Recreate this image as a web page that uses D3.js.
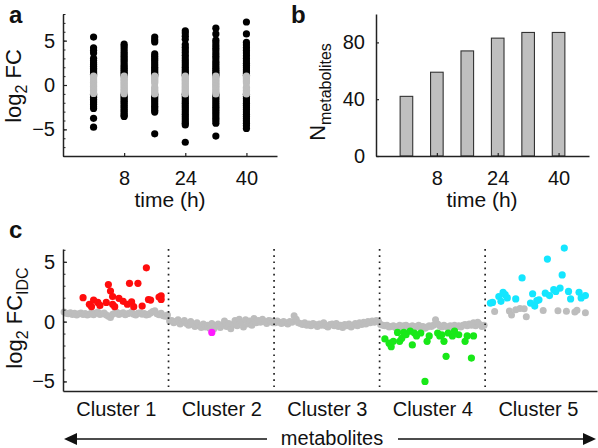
<!DOCTYPE html>
<html><head><meta charset="utf-8">
<script src="https://cdn.jsdelivr.net/npm/d3@7"></script>
<style>
body{margin:0;background:#fff;}
svg{display:block;font-family:Arial,"Liberation Sans",sans-serif;}
</style></head><body>
<svg id="chart" width="598" height="448"></svg>
<script>
// ---------- data ----------
const timePoints = [0, 8, 16, 24, 32, 40];
const timeTicks = [8, 24, 40];
const fcTicks = [-5, 0, 5];
// significant metabolites (|log2 FC| > 1), one list per time point
const fcSig0  = [5.4, 4.2, 3.9, 3.6, 3.0, 2.75, 2.5, 2.3, 2.1, 1.9, 1.7, 1.5, 1.35, 1.2, 1.05, -1.05, -1.2, -1.4, -1.6, -1.8, -2.0, -2.2, -2.45, -2.65, -3.75, -4.75];
const fcSig8  = [4.6, 4.35, 4.05, 3.75, 3.5, 3.25, 3.0, 2.75, 2.5, 2.25, 2.05, 1.85, 1.65, 1.45, 1.25, 1.05, -1.05, -1.25, -1.45, -1.65, -1.85, -2.05, -2.3, -2.5, -2.75, -2.95, -3.2, -3.4, -3.55];
const fcSig16 = [5.4, 5.1, 4.85, 3.5, 3.25, 3.0, 2.75, 2.5, 2.25, 2.0, 1.8, 1.6, 1.4, 1.2, 1.05, -1.05, -1.25, -1.45, -1.65, -1.9, -2.15, -2.4, -2.6, -2.85, -3.05, -5.5];
const fcSig24 = [6.1, 5.85, 5.5, 5.15, 4.55, 4.25, 3.95, 3.65, 3.35, 3.05, 2.75, 2.5, 2.25, 2.0, 1.75, 1.5, 1.3, 1.1, -1.05, -1.3, -1.55, -1.8, -2.05, -2.3, -2.55, -2.8, -3.05, -3.3, -3.55, -3.8, -4.05, -4.3, -4.5, -6.45];
const fcSig32 = [6.4, 5.75, 5.05, 4.75, 4.45, 4.15, 3.85, 3.55, 3.25, 2.95, 2.65, 2.4, 2.15, 1.9, 1.65, 1.45, 1.25, 1.05, -1.05, -1.25, -1.5, -1.75, -2.0, -2.25, -2.5, -2.75, -3.0, -3.25, -3.5, -3.75, -4.0, -4.3, -5.75];
const fcSig40 = [7.1, 5.75, 4.8, 4.5, 4.2, 3.9, 3.6, 3.3, 3.0, 2.7, 2.45, 2.2, 1.95, 1.7, 1.5, 1.3, 1.1, -1.05, -1.3, -1.55, -1.8, -2.05, -2.3, -2.55, -2.8, -3.05, -3.3, -3.55, -3.8, -4.05, -4.3, -4.6, -4.9];
// non-significant metabolites, one list per time point
const fcNs0  = [1.0, 0.8, 0.6, 0.45, 0.3, 0.15, 0.0, -0.15, -0.3, -0.45, -0.6, -0.8, -0.95];
const fcNs8  = [1.0, 0.82, 0.64, 0.5, 0.32, 0.15, 0.0, -0.18, -0.34, -0.5, -0.66, -0.82, -0.98];
const fcNs16 = [1.0, 0.85, 0.7, 0.55, 0.4, 0.22, -0.25, -0.42, -0.6, -0.75, -0.9, -1.0];
const fcNs24 = [1.0, 0.83, 0.66, 0.5, 0.33, 0.16, 0.0, -0.17, -0.34, -0.5, -0.67, -0.84, -1.0];
const fcNs32 = [1.0, 0.84, 0.68, 0.52, 0.35, 0.18, 0.02, -0.15, -0.32, -0.5, -0.68, -0.85, -1.0];
const fcNs40 = [1.0, 0.85, 0.7, 0.55, 0.4, 0.22, -0.25, -0.42, -0.6, -0.75, -0.9, -1.0];

const nMetabolites = [42, 59, 74, 83, 87, 87];
const nTicks = [0, 40, 80];

const clusterNames = ["Cluster 1", "Cluster 2", "Cluster 3", "Cluster 4", "Cluster 5"];
const clusterSize = 50;
const idcTicks = [-5, 0, 5];
// background (grey) metabolites: value per metabolite index
const bgC1 = [0.8,0.7,0.65,0.75,0.6,0.7,0.55,0.65,0.72,0.6,0.68,0.55,0.62,0.75,0.58,0.7,0.8,0.6,0.66,0.72,0.55,0.45,0.35,0.62,0.7,0.78,0.6,0.68,0.74,0.58,0.66,0.7,0.8,0.62,0.55,0.7,0.75,0.62,0.68,0.55,0.6,0.72,0.85,0.9,0.65,0.58,0.7,0.5,0.45,0.55];
const bgC2 = [0.05,0.1,-0.1,0.0,0.15,-0.2,-0.05,0.1,-0.15,-0.3,0.0,-0.25,-0.4,-0.1,-0.35,-0.5,-0.2,-0.45,-0.3,-0.55,-0.15,-0.6,-0.35,-0.2,-0.5,-0.3,0.05,-0.4,-0.15,-0.6,-0.25,0.1,-0.35,0.2,-0.1,-0.45,0.15,-0.2,0.05,-0.3,0.25,-0.1,0.1,-0.05,0.2,0.0,-0.15,0.1,0.05,-0.1];
const bgC3 = [-0.1,0.05,-0.05,-0.15,0.0,-0.1,-0.2,0.0,-0.05,0.5,0.2,-0.1,-0.15,-0.25,-0.1,-0.3,-0.2,-0.35,-0.15,-0.25,-0.4,-0.2,-0.3,-0.1,-0.35,-0.45,-0.25,-0.2,-0.35,-0.15,-0.4,-0.3,-0.5,-0.25,-0.35,-0.2,-0.45,-0.3,-0.15,-0.35,-0.1,-0.25,-0.05,-0.2,0.0,-0.1,0.05,-0.05,0.1,0.0];
const bgC4 = [-0.25,-0.3,-0.35,-0.3,-0.45,-0.4,-0.35,-0.5,-0.4,-0.3,-0.45,-0.35,-0.3,-0.4,-0.5,-0.35,-0.45,-0.4,-0.3,-0.5,-0.4,-0.55,-0.45,-0.35,-0.4,-0.3,0.15,-0.2,-0.35,-0.45,-0.3,-0.4,-0.5,-0.35,-0.45,-0.3,-0.4,-0.35,-0.45,-0.3,-0.25,-0.35,-0.2,-0.3,-0.1,-0.35,-0.05,-0.25,-0.4,-0.3];
// cluster 5 background: [metabolite index, value]
const bgC5 = [[4,0.85],[11,0.88],[12,0.55],[14,1.0],[16,1.1],[18,1.08],[19,0.4],[27,0.92],[34,0.9],[38,0.86],[42,0.8],[43,0.95],[47,0.75]];
// significant (coloured) metabolites: [metabolite index, value]
const sigC1 = [[9,2.0],[12,1.45],[13,1.25],[14,1.8],[16,1.6],[17,1.35],[20,1.6],[21,3.1],[22,2.55],[23,2.1],[23,1.45],[24,1.25],[26,1.95],[28,1.7],[30,1.45],[31,3.2],[32,1.65],[33,1.25],[35,3.2],[37,1.3],[39,4.5],[40,1.85],[41,1.8],[45,2.05],[46,2.15],[46,1.85]];
const sigC2 = [[20,-0.9]];
const sigC3 = [];
const sigC4 = [[2,-1.45],[4,-1.8],[5,-2.1],[6,-1.65],[8,-0.9],[9,-1.65],[10,-1.4],[11,-0.9],[12,-1.1],[14,-0.8],[15,-1.95],[16,-0.95],[17,-1.2],[19,-0.95],[21,-5.0],[22,-1.65],[23,-1.2],[27,-0.95],[28,-1.2],[29,-1.1],[30,-1.65],[31,-2.9],[32,-0.95],[34,-1.2],[35,-0.8],[37,-1.1],[40,-1.65],[41,-1.2],[43,-3.05],[44,-1.2]];
const sigC5 = [[2,1.55],[3,1.6],[6,2.1],[7,1.7],[8,2.45],[9,2.25],[10,1.98],[14,1.9],[17,3.65],[21,1.55],[22,2.33],[23,1.3],[24,1.76],[25,1.82],[28,2.38],[29,5.23],[30,2.18],[32,2.67],[33,2.52],[35,2.8],[36,3.9],[37,6.15],[39,2.52],[40,1.9],[44,2.45],[45,1.98],[47,2.18]];

// ---------- drawing ----------
const svg = d3.select("#chart");
const FONT = 20;
const AX = "#222";
const GREY = "#bdbdbd";
const sigColours = ["#ff0d0d", "#ff1aff", "#ff0d0d", "#18e818", "#14e6ff"];

function styleAxis(g) {
  g.select(".domain").attr("stroke", AX).attr("stroke-width", 1.5);
  g.selectAll(".tick line").attr("stroke", AX).attr("stroke-width", 1.2);
  g.selectAll(".tick text").attr("font-size", FONT).attr("fill", "#111").attr("font-family", "Arial, 'Liberation Sans', sans-serif");
}

// panel a
const xA = d3.scaleLinear().domain([-8, 48]).range([63, 277]);
const yA = d3.scaleLinear().domain([-8, 8]).range([156, 14]);
const sigAll = [fcSig0, fcSig8, fcSig16, fcSig24, fcSig32, fcSig40];
const nsAll = [fcNs0, fcNs8, fcNs16, fcNs24, fcNs32, fcNs40];
const gA = svg.append("g");
timePoints.forEach((t, i) => {
  gA.selectAll(null).data(sigAll[i]).enter().append("circle")
    .attr("cx", xA(t)).attr("cy", d => yA(d)).attr("r", 3.6).attr("fill", "#000");
  gA.selectAll(null).data(nsAll[i]).enter().append("circle")
    .attr("cx", xA(t)).attr("cy", d => yA(d)).attr("r", 3.6).attr("fill", GREY);
});
svg.append("g").attr("transform", "translate(63,0)")
  .call(d3.axisLeft(yA).tickValues(d3.range(-8, 9)).tickSize(-2.5).tickFormat(""))
  .call(g => { g.select(".domain").remove(); g.selectAll("line").attr("stroke", AX); });
svg.append("g").attr("transform", "translate(63,0)")
  .call(d3.axisLeft(yA).tickValues(fcTicks).tickSize(-4).tickSizeOuter(0).tickPadding(8).tickFormat(d3.format("d")))
  .call(styleAxis);
svg.append("g").attr("transform", "translate(0,156)")
  .call(d3.axisBottom(xA).tickValues(timeTicks).tickSize(-3).tickSizeOuter(0).tickPadding(15))
  .call(styleAxis);

// panel b
const xB = d3.scaleLinear().domain([-8, 48]).range([376, 589]);
const yB = d3.scaleLinear().domain([0, 100]).range([156, 14]);
svg.append("g").selectAll("rect").data(nMetabolites).enter().append("rect")
  .attr("x", (d, i) => xB(timePoints[i]) - 6.3).attr("width", 12.6)
  .attr("y", d => yB(d)).attr("height", d => yB(0) - yB(d))
  .attr("fill", "#bfbfbf").attr("stroke", "#333").attr("stroke-width", 1.1);
svg.append("g").attr("transform", "translate(376,0)")
  .call(d3.axisLeft(yB).tickValues(nTicks).tickSize(-3).tickSizeOuter(0).tickPadding(11))
  .call(styleAxis);
svg.append("g").attr("transform", "translate(0,156)")
  .call(d3.axisBottom(xB).tickValues(timeTicks).tickSize(-3).tickSizeOuter(0).tickPadding(15))
  .call(styleAxis);

// panel c
const xC = d3.scaleLinear().domain([0, 5.06]).range([63, 597]);
const yC = d3.scaleLinear().domain([-5.8, 6.07]).range([391, 249]);
const posC = (k, idx) => xC(k + (idx + 0.5) / clusterSize);
const bgAll = [bgC1, bgC2, bgC3, bgC4].map(arr => arr.map((v, i) => [i, v]));
bgAll.push(bgC5);
const sigAllC = [sigC1, sigC2, sigC3, sigC4, sigC5];
const gC = svg.append("g");
bgAll.forEach((arr, k) => {
  gC.selectAll(null).data(arr).enter().append("circle")
    .attr("cx", d => posC(k, d[0])).attr("cy", d => yC(d[1])).attr("r", 3.5).attr("fill", GREY);
});
sigAllC.forEach((arr, k) => {
  gC.selectAll(null).data(arr).enter().append("circle")
    .attr("cx", d => posC(k, d[0])).attr("cy", d => yC(d[1])).attr("r", 3.6).attr("fill", sigColours[k]);
});
svg.append("g").selectAll("line").data([1, 2, 3, 4]).enter().append("line")
  .attr("x1", d => xC(d)).attr("x2", d => xC(d)).attr("y1", 249).attr("y2", 391)
  .attr("stroke", "#222").attr("stroke-width", 1.7).attr("stroke-dasharray", "1.7,4.5");
svg.append("g").attr("transform", "translate(63,0)")
  .call(d3.axisLeft(yC).tickValues(d3.range(-5, 7)).tickSize(-2.5).tickFormat(""))
  .call(g => { g.select(".domain").remove(); g.selectAll("line").attr("stroke", AX); });
svg.append("g").attr("transform", "translate(63,0)")
  .call(d3.axisLeft(yC).tickValues(idcTicks).tickSize(-4).tickSizeOuter(0).tickPadding(8))
  .call(styleAxis);
svg.append("g").attr("transform", "translate(0,391)")
  .call(d3.axisBottom(xC).tickValues([0.5, 1.5, 2.5, 3.5, 4.5]).tickSize(0).tickSizeOuter(0).tickPadding(11)
    .tickFormat((d, i) => clusterNames[i]))
  .call(styleAxis);

// axis titles
function addText(x, y, txt, opts = {}) {
  return svg.append("text").attr("x", x).attr("y", y).text(txt)
    .attr("font-size", opts.size || FONT).attr("text-anchor", opts.anchor || "middle")
    .attr("font-weight", opts.weight || "normal").attr("fill", "#111");
}
addText(170, 207, "time (h)", {size: 21});
addText(482, 207, "time (h)", {size: 21});
addText(9, 23, "a", {size: 24, weight: "bold", anchor: "start"});
addText(291, 23, "b", {size: 24, weight: "bold", anchor: "start"});
addText(9, 238, "c", {size: 24, weight: "bold", anchor: "start"});

function rotLabel(x, y, parts) {
  const t = svg.append("text").attr("transform", `translate(${x},${y}) rotate(-90)`)
    .attr("text-anchor", "middle").attr("font-size", 22).attr("fill", "#111");
  parts.forEach(p => {
    t.append("tspan").text(p[0]).attr("font-size", p[1] ? 16 : 22).attr("dy", p[2] || 0);
  });
}
rotLabel(21, 86, [["log", false], ["2", true, 6], [" FC", false, -6]]);
rotLabel(325, 92, [["N", false], ["metabolites", true, 6]]);
rotLabel(22, 318, [["log", false], ["2", true, 6], [" FC", false, -6], ["IDC", true, 6]]);

// metabolites arrow
addText(332, 445, "metabolites", {size: 20});
const arrowY = 439;
svg.append("line").attr("x1", 74).attr("x2", 267).attr("y1", arrowY).attr("y2", arrowY).attr("stroke", "#111").attr("stroke-width", 1.5);
svg.append("line").attr("x1", 398).attr("x2", 586).attr("y1", arrowY).attr("y2", arrowY).attr("stroke", "#111").attr("stroke-width", 1.5);
svg.append("path").attr("d", `M64,${arrowY} L77,${arrowY - 6} L77,${arrowY + 6} Z`).attr("fill", "#111");
svg.append("path").attr("d", `M596,${arrowY} L583,${arrowY - 6} L583,${arrowY + 6} Z`).attr("fill", "#111");
</script>
</body></html>
